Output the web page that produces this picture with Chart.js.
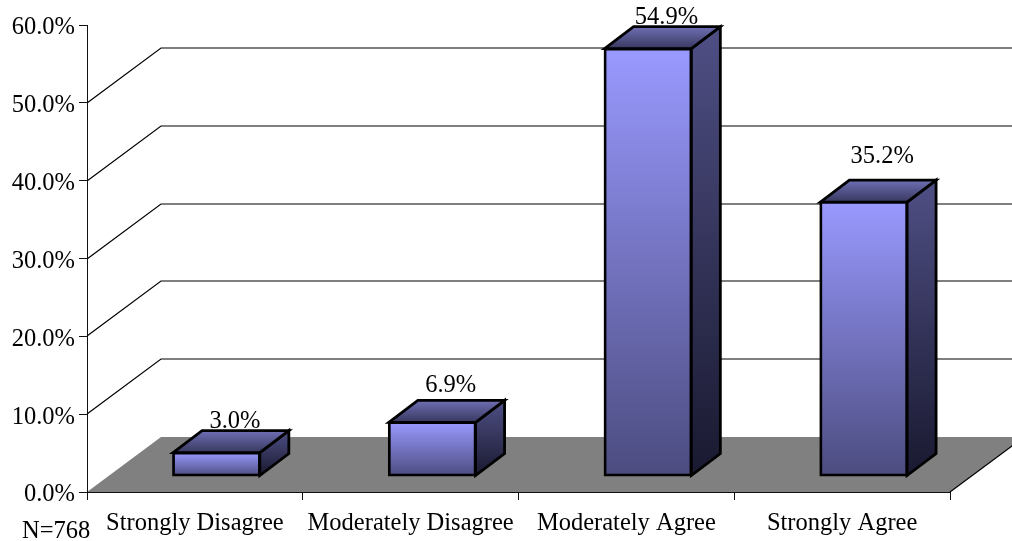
<!DOCTYPE html>
<html>
<head>
<meta charset="utf-8">
<title>Agreement chart</title>
<script src="https://cdn.jsdelivr.net/npm/chart.js@4"></script>
<style>
  html, body { margin: 0; padding: 0; background: #fff; }
  canvas { display: block; }
</style>
</head>
<body>
<canvas id="agreeChart" width="1012" height="541"></canvas>
<script>
// Chart data
const categories = ['Strongly Disagree', 'Moderately Disagree', 'Moderately Agree', 'Strongly Agree'];
const percents = [3.0, 6.9, 54.9, 35.2];
const yTicks = [0, 10, 20, 30, 40, 50, 60];
const noteText = 'N=768';

const serif = '"Liberation Serif", "Times New Roman", serif';
const fontPx = 24.5;

// 3D look: the back wall and floor sit behind the axes, bars float on the floor
const wallDx = 74, wallDy = 55;
const barShiftX = 21.6, barShiftY = 16;
const barDx = 29, barDy = 22;
const edge = 2.8;
// the labels are not placed evenly above the bars in the original
const labelGap = [3, 8, 3, 17];

function vGrad(c, y0, y1, top, bottom) {
    const g = c.createLinearGradient(0, y0, 0, y1);
    g.addColorStop(0, top);
    g.addColorStop(1, bottom);
    return g;
}

function face(c, pts, fill) {
    c.beginPath();
    pts.forEach((p, i) => i ? c.lineTo(p[0], p[1]) : c.moveTo(p[0], p[1]));
    c.closePath();
    c.fillStyle = fill;
    c.fill();
    c.stroke();
}

const scene3d = {
    id: 'scene3d',
    // wall lines and floor
    beforeDraw(chart) {
        const c = chart.ctx;
        const { x, y } = chart.scales;
        const left = x.left, right = x.right, y0 = y.getPixelForValue(0);
        c.save();
        c.fillStyle = '#808080';
        c.beginPath();
        c.moveTo(left, y0);
        c.lineTo(right, y0);
        c.lineTo(right + wallDx, y0 - wallDy);
        c.lineTo(left + wallDx, y0 - wallDy);
        c.closePath();
        c.fill();

        c.strokeStyle = '#000';
        c.lineWidth = 1.2;
        yTicks.slice(1, -1).forEach(v => {
            const py = Math.round(y.getPixelForValue(v));
            c.beginPath();
            c.moveTo(left, py);
            c.lineTo(left + wallDx, py - wallDy);
            c.lineTo(chart.width, py - wallDy);
            c.stroke();
        });
        c.beginPath();
        c.moveTo(right, y0);
        c.lineTo(right + wallDx, y0 - wallDy);
        c.stroke();
        c.restore();
    },
    // side and top faces first, then the library draws the front face moved up the floor
    beforeDatasetDraw(chart, args) {
        const c = chart.ctx;
        c.save();
        c.translate(barShiftX, -barShiftY);
        c.strokeStyle = '#000';
        c.lineWidth = edge;
        c.lineJoin = 'miter';
        args.meta.data.forEach(bar => {
            const l = bar.x - bar.width / 2, r = bar.x + bar.width / 2;
            const t = bar.y, b = bar.base;
            face(c, [[r, t], [r + barDx, t - barDy], [r + barDx, b - barDy], [r, b]],
                vGrad(c, t - barDy, b, '#4f4f85', '#191930'));
            face(c, [[l, t], [l + barDx, t - barDy], [r + barDx, t - barDy], [r, t]],
                vGrad(c, t - barDy, t, '#6f6fb5', '#38385f'));
        });
    },
    afterDatasetDraw(chart) {
        chart.ctx.restore();
    },
    afterDraw(chart) {
        const c = chart.ctx;
        const meta = chart.getDatasetMeta(0);
        c.save();
        c.fillStyle = '#000';
        c.font = fontPx + 'px ' + serif;
        c.textAlign = 'center';
        c.textBaseline = 'alphabetic';
        meta.data.forEach((bar, i) => {
            const text = percents[i].toFixed(1) + '%';
            c.fillText(text, bar.x + barShiftX + 18.5, bar.y - barShiftY - barDy - labelGap[i]);
        });
        c.textAlign = 'left';
        c.fillText(noteText, 22, 538);
        c.restore();
    }
};

const ctx = document.getElementById('agreeChart').getContext('2d');
new Chart(ctx, {
    type: 'bar',
    data: {
        labels: categories,
        datasets: [{
            data: percents,
            clip: false,
            barPercentage: 0.402,
            categoryPercentage: 1,
            borderColor: '#000',
            borderWidth: edge,
            borderSkipped: false,
            inflateAmount: 1,
            backgroundColor(context) {
                // scales have no pixels yet on the first pass
                const y = context.chart.scales.y;
                const top = y ? y.getPixelForValue(context.raw) : NaN;
                const bottom = y ? y.getPixelForValue(0) : NaN;
                if (!isFinite(top) || !isFinite(bottom)) return '#9999ff';
                return vGrad(context.chart.ctx, top, bottom, '#9999ff', '#4c4c80');
            }
        }]
    },
    options: {
        responsive: false,
        animation: false,
        layout: { autoPadding: false, padding: { top: 25, right: 62 } },
        plugins: { legend: { display: false }, tooltip: { enabled: false } },
        scales: {
            x: {
                afterFit(s) { s.height = 49; },
                offset: true,
                border: { color: '#111', width: 1 },
                grid: { offset: true, drawOnChartArea: false, tickLength: 8, color: '#111' },
                ticks: {
                    color: '#000',
                    padding: 9,
                    maxRotation: 0,
                    autoSkip: false,
                    font: { family: serif, size: fontPx }
                }
            },
            y: {
                min: 0,
                max: 60,
                afterFit(s) { s.width = 87; },
                afterBuildTicks(s) { s.ticks = yTicks.map(value => ({ value })); },
                border: { color: '#111', width: 1 },
                grid: { drawOnChartArea: false, tickLength: 8, color: '#111' },
                ticks: {
                    color: '#000',
                    padding: 4,
                    labelOffset: 3,
                    font: { family: serif, size: fontPx },
                    callback: v => v.toFixed(1) + '%'
                }
            }
        }
    },
    plugins: [scene3d]
});
</script>
</body>
</html>
